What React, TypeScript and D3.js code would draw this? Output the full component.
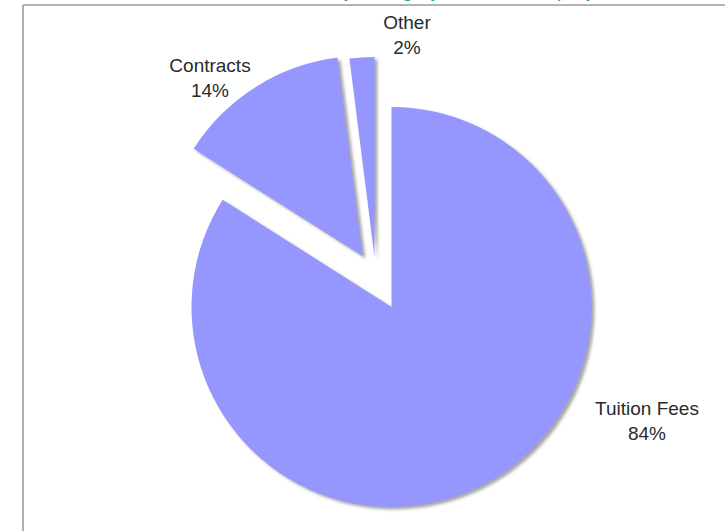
import React from "react";
import * as d3 from "d3";

const categories = ["Tuition Fees", "Contracts", "Other"];
const values = [84, 14, 2];
const percentLabels = ["84%", "14%", "2%"];
const titleText = "Sources of Revenue by Category, Fiscal Year (July 2008 - June 2009)";

// layout / style
const W = 725;
const H = 531;
const CX = 391.5;
const CY = 307;
const R = 200;
const explodeOffsets: [number, number][] = [
  [0, 0],
  [-29, -51],
  [-17, -50],
];
const labelCenters: [number, number][] = [
  [647, 408],
  [210, 65],
  [407, 22],
];
const SLICE_COLOR = "#9696ff";

export default function App() {
  const pie = d3
    .pie<number>()
    .sort(null)
    .startAngle(0)
    .endAngle(2 * Math.PI)
    .value((d) => d);
  const arcs = pie(values);
  const arc = d3.arc<d3.PieArcDatum<number>>().innerRadius(0).outerRadius(R);

  return (
    <svg
      width={W}
      height={H}
      style={{ position: "fixed", left: 0, top: 0, background: "#fff" }}
      fontFamily="'Liberation Sans', Arial, sans-serif"
    >
      <defs>
        <filter id="shadowBlur" x="-10%" y="-10%" width="120%" height="120%">
          <feGaussianBlur stdDeviation="1.4" />
        </filter>
      </defs>
      <rect x={0} y={0} width={W} height={H} fill="#fff" />
      <text
        x={455}
        y={-3}
        textAnchor="middle"
        fontSize={20}
        fill="#2e9a8c"
      >
        {titleText}
      </text>
      <line x1={23} y1={5} x2={W} y2={5} stroke="#9a9a9a" strokeWidth={1.6} />
      <line x1={23} y1={5} x2={23} y2={H} stroke="#9a9a9a" strokeWidth={1.6} />

      {arcs.map((a, i) => (
        <g
          key={"s" + i}
          transform={`translate(${CX + explodeOffsets[i][0]},${CY + explodeOffsets[i][1]})`}
        >
          <path
            d={arc(a) || ""}
            transform="translate(3,2.5)"
            fill="#a8a8a8"
            filter="url(#shadowBlur)"
          />
        </g>
      ))}
      {arcs.map((a, i) => (
        <g
          key={"p" + i}
          transform={`translate(${CX + explodeOffsets[i][0]},${CY + explodeOffsets[i][1]})`}
        >
          <path d={arc(a) || ""} fill={SLICE_COLOR} />
        </g>
      ))}

      {categories.map((c, i) => (
        <g key={"l" + i} fill="#2a2a2a" fontSize={19} textAnchor="middle">
          <text x={labelCenters[i][0]} y={labelCenters[i][1]} dominantBaseline="central">
            {c}
          </text>
          <text
            x={labelCenters[i][0]}
            y={labelCenters[i][1] + 25}
            dominantBaseline="central"
          >
            {percentLabels[i]}
          </text>
        </g>
      ))}
    </svg>
  );
}
